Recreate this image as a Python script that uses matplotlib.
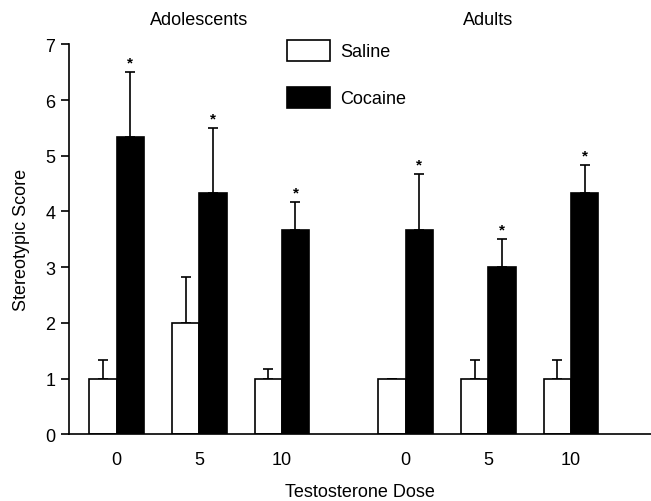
import matplotlib
matplotlib.use('Agg')
import matplotlib.pyplot as plt
import numpy as np

plt.rcParams['font.family'] = ['Liberation Sans', 'DejaVu Sans']

# group / dose layout
groups = ['Adolescents', 'Adults']
doses = ['0', '5', '10', '0', '5', '10']
positions = np.array([0, 1, 2, 3.5, 4.5, 5.5])

saline_mean = [1.0, 2.0, 1.0, 1.0, 1.0, 1.0]
saline_sem = [0.33, 0.83, 0.17, 0.0, 0.33, 0.33]
cocaine_mean = [5.33, 4.33, 3.67, 3.67, 3.0, 4.33]
cocaine_sem = [1.17, 1.17, 0.5, 1.0, 0.5, 0.5]

fig = plt.figure(figsize=(6.51, 5.02), dpi=100)
ax = fig.add_axes([69.3 / 651, 1 - 435.3 / 502, 1 - 69.3 / 651, (435.3 - 45.3) / 502])

w = 0.33
fs = 13
ax.bar(positions - w / 2, saline_mean, w, color='white', edgecolor='black',
       linewidth=1.2, label='Saline', zorder=2)
ax.bar(positions + w / 2, cocaine_mean, w, color='black', edgecolor='black',
       linewidth=1.2, label='Cocaine', zorder=2)

zeros = np.zeros(len(positions))
ax.errorbar(positions - w / 2, saline_mean, yerr=[zeros, saline_sem], fmt='none',
            ecolor='black', elinewidth=1.2, capsize=3.5, capthick=1.2, zorder=1)
ax.errorbar(positions + w / 2, cocaine_mean, yerr=[zeros, cocaine_sem], fmt='none',
            ecolor='black', elinewidth=1.2, capsize=3.5, capthick=1.2, zorder=1)

# significance markers above cocaine bars
for x, m, e in zip(positions + w / 2, cocaine_mean, cocaine_sem):
    ax.annotate('*', (x, m + e), xytext=(0, 2), textcoords='offset points',
                ha='center', va='bottom', fontsize=11, fontweight='bold')

ax.set_xlim(-0.574, 6.47)
ax.set_ylim(0, 7)
ax.set_yticks(range(8))
ax.set_xticks(positions)
ax.set_xticklabels(doses)
ax.tick_params(axis='x', length=0, pad=12, labelsize=fs)
ax.tick_params(axis='y', length=6, width=1.2, pad=4, labelsize=fs)
for s in ['top', 'right']:
    ax.spines[s].set_visible(False)
for s in ['left', 'bottom']:
    ax.spines[s].set_linewidth(1.2)

ax.set_ylabel('Stereotypic Score', fontsize=fs, labelpad=11)
ax.set_xlabel('Testosterone Dose', fontsize=fs, labelpad=11)

# group titles
for name, xs in zip(groups, [positions[:3], positions[3:]]):
    ax.text(xs.mean(), 7.3, name, ha='center', va='bottom', fontsize=fs,
            transform=ax.transData, clip_on=False)

ax.legend(loc='upper left', bbox_to_anchor=(287 / 651, 1 - 41 / 502),
          bbox_transform=fig.transFigure, frameon=False, fontsize=fs,
          handlelength=2.4, handleheight=1.4, labelspacing=1.45,
          handletextpad=0.55, borderpad=0, borderaxespad=0)

fig.savefig('out.png', dpi=100)
